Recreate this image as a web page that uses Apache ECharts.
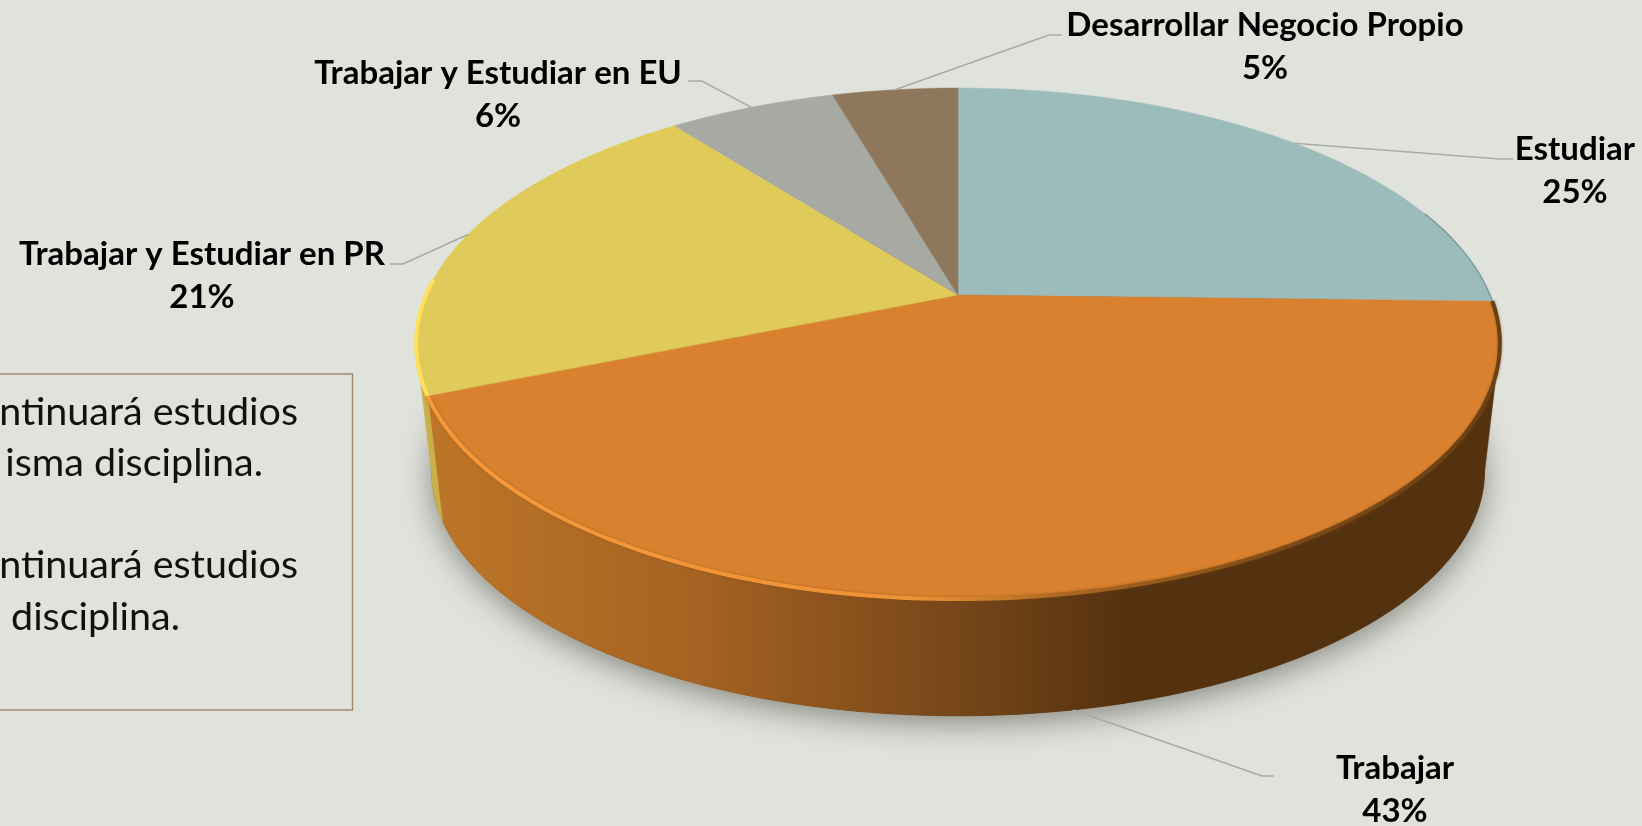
<!DOCTYPE html>
<html><head><meta charset="utf-8">
<style>html,body{margin:0;padding:0;background:#e0e2dc;overflow:hidden}#c{width:1642px;height:826px}</style>
<script src="https://cdn.jsdelivr.net/npm/echarts@6/dist/echarts.min.js"></script>
</head><body><div id="c"></div>
<script>
// data
const categories = ['Estudiar','Trabajar','Trabajar y Estudiar en PR','Trabajar y Estudiar en EU','Desarrollar Negocio Propio'];
const shares = [25.4, 43.4, 20.7, 6.0, 4.5];
const sliceColors = ['#9cbcbc','#d9812e','#e0ca5a','#a7aaa2','#8f775c'];
const noteLines = ['ntinuará estudios','isma disciplina.','ntinuará estudios','disciplina.'];
// layout
const labelCenters = [[1575,171],[1395,790],[202,276],[498,95],[1265,47]];
const leaderEnds = [
  [[1500,159],[1513,159]],
  [[1262,776],[1274,776]],
  [[403,264],[390,264]],
  [[702,81],[688,81]],
  [[1049,35],[1062,35]]
];
const noteRight = [298,263,298,180];
const noteY = [412,463,565,617];
const LABEL_FONT = 33, NOTE_FONT = 39.5;
const FAMILY = 'Lato, Carlito, "Open Sans", sans-serif';
// projection of the tilted disc
const CX = 958, K = 0.19;
const TOP = {a:532, b:246.3, c:295};
const LOW = {a:517, b:236, c:424.5};
const VIS_FROM = 101, VIS_TO = 259;
function pt(plane, deg){
  const r = deg*Math.PI/180, x = Math.sin(r), y = -Math.cos(r), d = 1-K*y;
  return [CX+plane.a*x/d, plane.c+plane.b*y/d];
}
function arc(plane, from, to){
  const out = [], n = Math.max(2, Math.ceil(Math.abs(to-from)));
  for(let i=0;i<=n;i++) out.push(pt(plane, from+(to-from)*i/n));
  return out;
}
const total = shares.reduce((s,v)=>s+v,0);
const starts = shares.map((v,i)=>shares.slice(0,i).reduce((s,x)=>s+x,0)/total*360);
function hGrad(stops){ return new echarts.graphic.LinearGradient(430,0,1500,0,stops,true); }
const wallFill = [
  hGrad([{offset:0,color:'#bd7628'},{offset:.25,color:'#a56222'},{offset:.49,color:'#774719'},{offset:.65,color:'#55320f'},{offset:1,color:'#55320f'}]),
  '#c9b04a'
];
const orangeRim = hGrad([{offset:0,color:'#f7993a'},{offset:.45,color:'#ee9236'},{offset:.6,color:'#a96620'},{offset:.8,color:'#7d4a16'},{offset:1,color:'#6a4015'}]);

function renderBase(params, api){
  const children = [];
  const i = params.dataIndex;
  const a0 = starts[i], a1 = a0 + api.value(0)/total*360;
  if(i===0){
    children.push({type:'polygon',shape:{points:arc(LOW,0,360)},
      style:{fill:'#55320f',shadowBlur:30,shadowColor:'rgba(80,82,72,0.6)',shadowOffsetY:8,shadowOffsetX:0}});
  }
  const f = Math.max(a0,VIS_FROM), t = Math.min(a1,VIS_TO);
  if(f<t){
    const pts = arc(TOP,f,t).concat(arc(LOW,t,f));
    const fill = i===1 ? wallFill[0] : wallFill[1];
    children.push({type:'polygon',shape:{points:pts},style:{fill:fill,stroke:fill,lineWidth:.6}});
  }
  return {type:'group',children};
}
function renderTop(params, api){
  const i = params.dataIndex;
  const a0 = starts[i], a1 = a0 + api.value(0)/total*360;
  const c = sliceColors[i];
  const pts = [[CX,TOP.c]].concat(arc(TOP,a0,a1));
  const children = [{type:'polygon',shape:{points:pts},style:{fill:c,stroke:c,lineWidth:.5}}];
  if(i===0) children.push({type:'polyline',shape:{points:arc(TOP,a1-22,a1)},style:{fill:'none',stroke:'#7d9c9d',lineWidth:1.5}});
  if(i===1) children.push({type:'polyline',shape:{points:arc(TOP,a0,a1)},style:{fill:'none',stroke:orangeRim,lineWidth:4,shadowBlur:3,shadowColor:'rgba(120,70,20,.5)'}});
  if(i===2) children.push({type:'polyline',shape:{points:arc(TOP,a0,a0+26)},style:{fill:'none',stroke:'#ffdf5c',lineWidth:4}});
  return {type:'group',children};
}
function renderLabel(params, api){
  const i = params.dataIndex;
  const v = api.value(0);
  const mid = starts[i] + v/total*180;
  const start = pt(mid>VIS_FROM && mid<VIS_TO ? LOW : TOP, mid);
  const [cx,cy] = labelCenters[i];
  return {type:'group',children:[
    {type:'polyline',shape:{points:[start].concat(leaderEnds[i])},style:{fill:'none',stroke:'#a9aaa5',lineWidth:1.5}},
    {type:'text',style:{text:categories[i]+'\n'+Math.round(v)+'%',x:cx,y:cy,align:'center',verticalAlign:'middle',
      fontFamily:FAMILY,fontSize:LABEL_FONT,fontWeight:'bold',lineHeight:43,fill:'#000'}}
  ]};
}
const chart = echarts.init(document.getElementById('c'),null,{renderer:'canvas'});
const seriesData = shares.map(v=>[v]);
chart.setOption({
  backgroundColor:'#e0e2dc',
  animation:false,
  graphic:{elements:[
    {type:'polyline',shape:{points:[[0,374],[352.5,374],[352.5,710],[0,710]]},style:{fill:'none',stroke:'#a08a70',lineWidth:1.5},silent:true},
    ...noteLines.map((t,i)=>({type:'text',style:{text:t,x:noteRight[i],y:noteY[i],align:'right',verticalAlign:'middle',fontFamily:FAMILY,fontSize:NOTE_FONT,fill:'#111'},silent:true}))
  ]},
  series:[
    {type:'custom',coordinateSystem:'none',silent:true,data:seriesData,renderItem:renderBase,z:1},
    {type:'custom',coordinateSystem:'none',silent:true,data:seriesData,renderItem:renderTop,z:2},
    {type:'custom',coordinateSystem:'none',silent:true,data:seriesData,renderItem:renderLabel,z:3}
  ]
});
</script></body></html>
